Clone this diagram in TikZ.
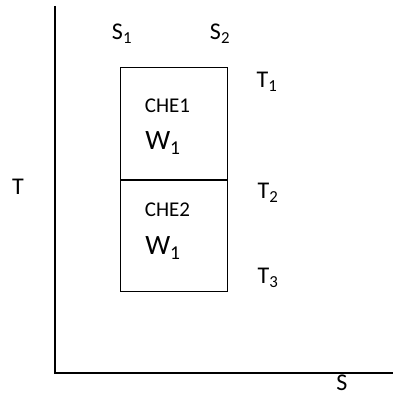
\documentclass[tikz,border=0pt]{standalone}
\usepackage{fontspec}
\setmainfont{Carlito}
\begin{document}
\begin{tikzpicture}[x=1pt,y=-1pt,
  axisline/.style={line width=1.3pt},
  stage/.style={draw,line width=1pt,minimum width=107.5pt,inner sep=0pt},
  lbl/.style={inner sep=0pt,font=\fontsize{24}{26}\selectfont},
  tag/.style={inner sep=0pt,font=\fontsize{21}{23}\selectfont},
  work/.style={inner sep=0pt,font=\fontsize{28}{30}\selectfont}]
\useasboundingbox (0,0) rectangle (393,401);
% axes
\coordinate (top) at (55,6);
\coordinate (origin) at (55,373);
\coordinate (right) at (393,373);
\draw[axisline] (top) -- (origin) -- (right);
% the two stacked stages
\node[stage,minimum height=112pt,anchor=north west] (che1) at (119.5,67) {};
\node[stage,minimum height=111pt,anchor=north west] (che2) at (che1.south west) {};
% texts inside the stages
\node[tag] (n1) at (167.5,106) {CHE1};
\node[work] (w1) at (163,143) {W\textsubscript{1}};
\node[tag] (n2) at (167.5,210) {CHE2};
\node[work] (w2) at (163,248) {W\textsubscript{1}};
% entropy and temperature marks
\node[lbl] (s1) at (122,34) {S\textsubscript{1}};
\node[lbl] (s2) at (220,34) {S\textsubscript{2}};
\node[lbl] (t1) at (267,82) {T\textsubscript{1}};
\node[lbl] (t2) at (268,193) {T\textsubscript{2}};
\node[lbl] (t3) at (268,278) {T\textsubscript{3}};
\node[lbl] (tax) at (18,187) {T};
\node[lbl] (sax) at (342,383) {S};
\end{tikzpicture}
\end{document}
